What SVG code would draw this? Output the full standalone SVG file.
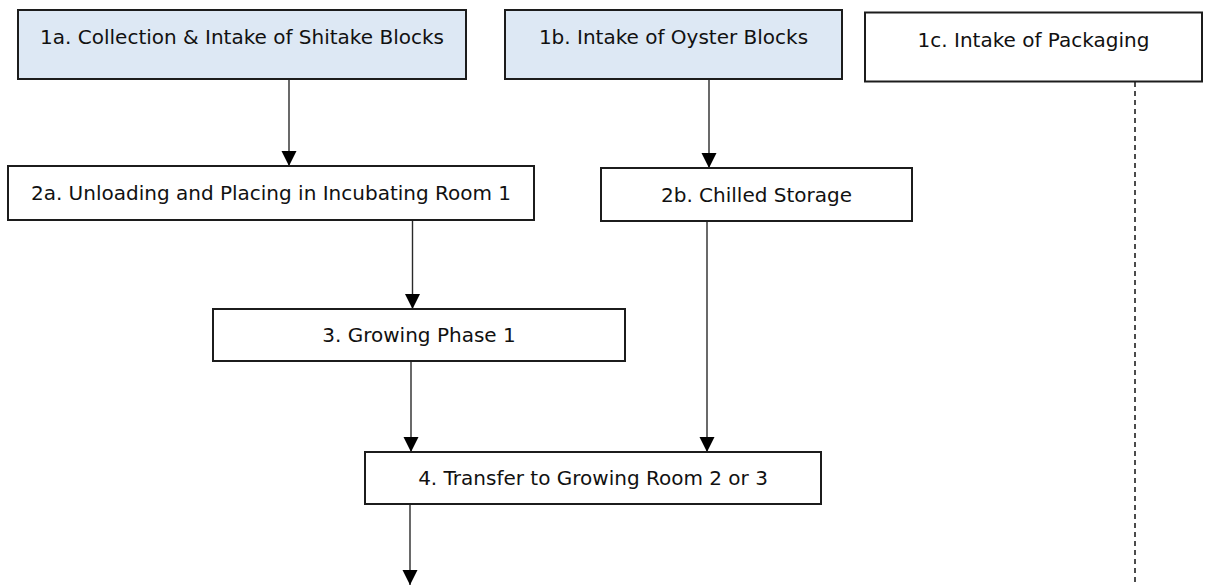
<svg xmlns="http://www.w3.org/2000/svg" width="1205" height="585" viewBox="0 0 1205 585">
  <style>
    .box { fill: #ffffff; stroke: #1c1c1c; stroke-width: 2; }
    .intake { fill: #dde8f4; }
    .label { font-family: "DejaVu Sans", "Liberation Sans", sans-serif; font-size: 20px; fill: #111111; text-anchor: middle; }
    .flow { stroke: #2a2a2a; stroke-width: 1.4; fill: none; marker-end: url(#arrow); }
    .dashed { stroke: #111111; stroke-width: 1.5; stroke-dasharray: 5 4; fill: none; }
  </style>
  <defs>
    <marker id="arrow" markerUnits="userSpaceOnUse" markerWidth="16" markerHeight="16" refX="15" refY="8" orient="auto">
      <path d="M0,0.5 L15,8 L0,15.5 Z" fill="#000000"/>
    </marker>
  </defs>

  <rect width="1205" height="585" fill="#ffffff"/>

  <!-- connectors -->
  <g id="connectors">
    <line class="flow" x1="289" y1="80" x2="289" y2="166"/>
    <line class="flow" x1="709" y1="80" x2="709" y2="168"/>
    <line class="flow" x1="412.5" y1="220" x2="412.5" y2="309"/>
    <line class="flow" x1="707" y1="221" x2="707" y2="452"/>
    <line class="flow" x1="411" y1="361" x2="411" y2="452"/>
    <line class="flow" x1="410" y1="504" x2="410" y2="585"/>
    <line class="dashed" x1="1135" y1="82" x2="1135" y2="585"/>
  </g>

  <!-- intake steps -->
  <g id="node-1a">
    <rect class="box intake" x="18" y="10" width="448" height="69"/>
    <text class="label" x="242" y="44">1a. Collection &amp; Intake of Shitake Blocks</text>
  </g>
  <g id="node-1b">
    <rect class="box intake" x="505" y="10" width="337" height="69"/>
    <text class="label" x="673.5" y="44">1b. Intake of Oyster Blocks</text>
  </g>
  <g id="node-1c">
    <rect class="box" x="865" y="12.5" width="337" height="69"/>
    <text class="label" x="1033.5" y="47">1c. Intake of Packaging</text>
  </g>

  <!-- handling and growing steps -->
  <g id="node-2a">
    <rect class="box" x="8" y="166" width="526" height="54"/>
    <text class="label" x="271" y="200">2a. Unloading and Placing in Incubating Room 1</text>
  </g>
  <g id="node-2b">
    <rect class="box" x="601" y="168" width="311" height="53"/>
    <text class="label" x="756.5" y="202">2b. Chilled Storage</text>
  </g>
  <g id="node-3">
    <rect class="box" x="213" y="309" width="412" height="52"/>
    <text class="label" x="419" y="342">3. Growing Phase 1</text>
  </g>
  <g id="node-4">
    <rect class="box" x="365" y="452" width="456" height="52"/>
    <text class="label" x="593" y="485">4. Transfer to Growing Room 2 or 3</text>
  </g>
</svg>
